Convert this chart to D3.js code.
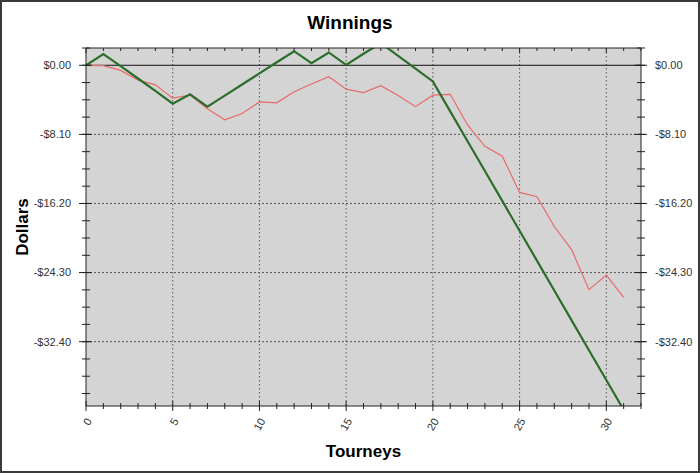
<!DOCTYPE html>
<html>
<head>
<meta charset="utf-8">
<script src="https://cdn.jsdelivr.net/npm/d3@7"></script>
<style>
  body { margin: 0; background: #fff; }
  svg { display: block; font-family: Arial, "Liberation Sans", sans-serif; }
</style>
</head>
<body>
<div id="main"></div>
<script>
/// data ///
const tourneys = d3.range(0, 32);
const winnings = [0, -0.05, -0.6, -1.75, -2.3, -3.85, -3.5, -5.1, -6.4, -5.65, -4.3, -4.4, -3.1, -2.2, -1.35, -2.8,
                  -3.2, -2.4, -3.55, -4.85, -3.5, -3.4, -7.0, -9.5, -10.65, -14.9, -15.4, -18.9, -21.6, -26.3, -24.6, -27.2];
const expected = [0, 1.3, -0.1, -1.55, -3.0, -4.5, -3.4, -4.85, -3.55, -2.25, -0.95, 0.35, 1.65, 0.25, 1.5, 0.05,
                  1.35, 2.6, 1.1, -0.4, -1.9, -5.4, -8.9, -12.4, -15.9, -19.4, -22.9, -26.4, -29.9, -33.4, -36.9, -40.4];
const yMajor = [0, -8.1, -16.2, -24.3, -32.4];
const yMinor = d3.range(-19, 2).map(i => i * 2.025);
const xMajor = [0, 5, 10, 15, 20, 25, 30];
const xMinor = d3.range(0, 33);

/// chart ///
const w = 700, h = 473;
const pLeft = 86, pRight = 641, pTop = 48, pBottom = 406;

let svg = d3.select('#main').append('svg')
    .attr('width', w)
    .attr('height', h);

svg.append('rect')           // outer frame
    .attr('x', 1).attr('y', 1)
    .attr('width', w - 2).attr('height', h - 2)
    .attr('fill', '#fff')
    .attr('stroke', '#3a3a3a')
    .attr('stroke-width', 2);

let xScale = d3.scaleLinear().domain([0, 32]).range([pLeft, pRight]);
let yScale = d3.scaleLinear().domain([-39.94, 2.025]).range([pBottom, pTop]);

svg.append('rect')           // plot background
    .attr('x', pLeft).attr('y', pTop)
    .attr('width', pRight - pLeft).attr('height', pBottom - pTop)
    .attr('fill', '#d4d4d4');

svg.append('clipPath').attr('id', 'clip')
    .append('rect')
    .attr('x', pLeft).attr('y', pTop)
    .attr('width', pRight - pLeft).attr('height', pBottom - pTop);

// grid
svg.append('g').selectAll('line')
    .data(xMajor.filter(d => d > 0))
    .enter().append('line')
    .attr('x1', d => xScale(d)).attr('x2', d => xScale(d))
    .attr('y1', pTop).attr('y2', pBottom)
    .attr('stroke', '#555').attr('stroke-dasharray', '1.5,2.5');

svg.append('g').selectAll('line')
    .data(yMajor.filter(d => d < 0))
    .enter().append('line')
    .attr('x1', pLeft).attr('x2', pRight)
    .attr('y1', d => yScale(d)).attr('y2', d => yScale(d))
    .attr('stroke', '#555').attr('stroke-dasharray', '2,2');

svg.append('line')           // zero line
    .attr('x1', pLeft).attr('x2', pRight)
    .attr('y1', yScale(0)).attr('y2', yScale(0))
    .attr('stroke', '#111');

// series
let line = d3.line().x((d, i) => xScale(tourneys[i])).y(d => yScale(d));

svg.append('path')
    .datum(winnings)
    .attr('clip-path', 'url(#clip)')
    .attr('d', line)
    .attr('fill', 'none')
    .attr('stroke', '#e86a6a')
    .attr('stroke-width', 1.2);

svg.append('path')
    .datum(expected)
    .attr('clip-path', 'url(#clip)')
    .attr('d', line)
    .attr('fill', 'none')
    .attr('stroke', '#2b6e2b')
    .attr('stroke-width', 2.2);

// axes frame
let frame = svg.append('g').attr('stroke', '#222').attr('stroke-width', 1);
frame.append('line').attr('x1', pLeft).attr('x2', pRight).attr('y1', pBottom).attr('y2', pBottom);
frame.append('line').attr('x1', pLeft).attr('x2', pRight).attr('y1', pTop).attr('y2', pTop);
frame.append('line').attr('x1', pLeft).attr('x2', pLeft).attr('y1', pTop).attr('y2', pBottom);
frame.append('line').attr('x1', pRight).attr('x2', pRight).attr('y1', pTop).attr('y2', pBottom);

// x ticks (bottom crossing, top inward)
frame.selectAll(null).data(xMinor).enter().append('line')
    .attr('x1', d => xScale(d)).attr('x2', d => xScale(d))
    .attr('y1', d => pBottom - (d % 5 === 0 ? 5 : 3))
    .attr('y2', d => pBottom + (d % 5 === 0 ? 5 : 3));
frame.selectAll(null).data(xMinor).enter().append('line')
    .attr('x1', d => xScale(d)).attr('x2', d => xScale(d))
    .attr('y1', pTop)
    .attr('y2', d => pTop + (d % 5 === 0 ? 5 : 3));

// y ticks (left and right, crossing)
[pLeft, pRight].forEach(x0 => {
    frame.selectAll(null).data(yMinor).enter().append('line')
        .attr('x1', x0 - 4).attr('x2', x0 + 4)
        .attr('y1', d => yScale(d)).attr('y2', d => yScale(d));
    frame.selectAll(null).data(yMajor).enter().append('line')
        .attr('x1', x0 - 7).attr('x2', x0 + 6)
        .attr('y1', d => yScale(d)).attr('y2', d => yScale(d));
});

// labels
let fmt = d => (d < 0 ? '-$' : '$') + Math.abs(d).toFixed(2);

svg.append('g').selectAll('text').data(yMajor).enter().append('text')
    .attr('x', 71).attr('y', d => yScale(d)).attr('dy', '0.35em')
    .attr('text-anchor', 'end')
    .attr('font-size', 11).attr('fill', '#333')
    .text(fmt);

svg.append('g').selectAll('text').data(yMajor).enter().append('text')
    .attr('x', 655).attr('y', d => yScale(d)).attr('dy', '0.35em')
    .attr('text-anchor', 'start')
    .attr('font-size', 11).attr('fill', '#333')
    .text(fmt);

svg.append('g').selectAll('text').data(xMajor).enter().append('text')
    .attr('transform', d => 'translate(' + (xScale(d) + 3) + ',419) rotate(-60)')
    .attr('dy', '0.35em')
    .attr('text-anchor', 'end')
    .attr('font-size', 11).attr('fill', '#333')
    .text(d => d);

svg.append('text')
    .attr('x', 350).attr('y', 29)
    .attr('text-anchor', 'middle')
    .attr('font-size', 19).attr('font-weight', 'bold')
    .text('Winnings');

svg.append('text')
    .attr('x', (pLeft + pRight) / 2).attr('y', 457)
    .attr('text-anchor', 'middle')
    .attr('font-size', 17).attr('font-weight', 'bold')
    .text('Tourneys');

svg.append('text')
    .attr('transform', 'translate(28,' + (pTop + pBottom) / 2 + ') rotate(-90)')
    .attr('text-anchor', 'middle')
    .attr('font-size', 17).attr('font-weight', 'bold')
    .text('Dollars');
</script>
</body>
</html>
